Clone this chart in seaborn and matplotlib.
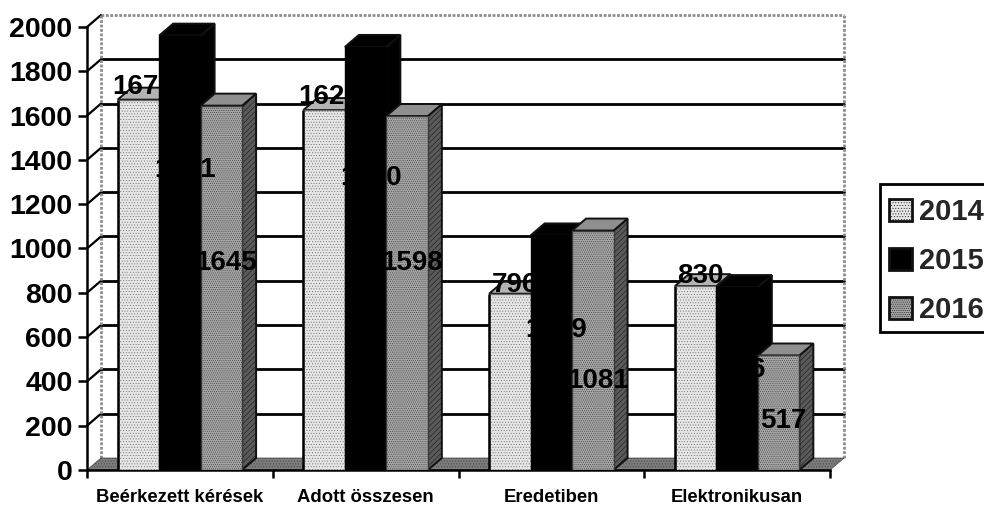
import matplotlib
matplotlib.use("Agg")
import matplotlib.pyplot as plt
from matplotlib.patches import Polygon, Rectangle
import pandas as pd
import seaborn as sns

categories = ["Beérkezett kérések", "Adott összesen", "Eredetiben", "Elektronikusan"]
years = ["2014", "2015", "2016"]
values_2014 = [1672, 1625, 796, 830]
values_2015 = [1961, 1910, 1059, 826]
values_2016 = [1645, 1598, 1081, 517]
yticks = list(range(0, 2001, 200))

# layout only: height of each series' number label in axis units
label_y_2014 = [1730, 1685, 835, 875]
label_y_2015 = [1354, 1318, 632, 451]
label_y_2016 = [935, 935, 402, 221]

colors = {"2014": "#e6e6e6", "2015": "#000000", "2016": "#a4a4a4"}
edges = {"2014": "#6a6a6a", "2015": "#000000", "2016": "#3a3a3a"}
hatches = {"2014": "......", "2015": "", "2016": "........"}

sns.set_theme(style="white")
plt.rcParams["font.family"] = ["Liberation Sans", "DejaVu Sans"]
plt.rcParams["hatch.linewidth"] = 0.35

df = pd.DataFrame({
    "cat": categories * 3,
    "year": sum([[y] * 4 for y in years], []),
    "value": values_2014 + values_2015 + values_2016,
})

W, H = 984, 507
fig = plt.figure(figsize=(W / 100, H / 100), dpi=100, facecolor="white")
ax = fig.add_axes([87 / W, (H - 470) / H, 743 / W, 443 / H])
sns.barplot(data=df, x="cat", y="value", hue="year", hue_order=years, order=categories,
            palette=colors, width=0.67, gap=0, dodge=True, saturation=1, errorbar=None,
            ax=ax, zorder=5, legend=True)
ax.set_xlim(-0.5, 3.5)
ax.set_ylim(0, 2000)
ax.set_xlabel("")
ax.set_ylabel("")

# depth of the pseudo-3D look, in axis units
dx = 14 / (743 / 4)
dy = 12 / (443 / 2000)
x0, x1 = -0.5, 3.5

# back wall, side wall and floor
for v in yticks[1:-1]:
    ax.plot([x0 + dx, x1 + dx], [v + dy, v + dy], color="black", lw=2, clip_on=False, zorder=1)
for v in yticks[1:]:
    ax.plot([x0, x0 + dx], [v, v + dy], color="black", lw=1.6, clip_on=False, zorder=1)
wall = dict(color="#8c8c8c", lw=2, ls=(0, (1, 0.6)), clip_on=False, zorder=1)
ax.plot([x0 + dx, x1 + dx], [2000 + dy, 2000 + dy], **wall)
ax.plot([x1 + dx, x1 + dx], [dy, 2000 + dy], **wall)
ax.plot([x0 + dx, x0 + dx], [dy, 2000 + dy], **wall)
ax.add_patch(Polygon([(x0, 0), (x1, 0), (x1 + dx, dy), (x0 + dx, dy)], closed=True,
                     facecolor="#7c7c7c", edgecolor="#444444", hatch="......", lw=0.5,
                     clip_on=False, zorder=2))

# bars: style the fronts, then add side and top faces
n = len(categories)
bars = [b for c in ax.containers for b in c]
for i, y in enumerate(years):
    for j in range(n):
        b = bars[i * n + j]
        b.set_edgecolor(edges[y])
        b.set_linewidth(1.0)
        b.set_hatch(hatches[y])
        b.set_zorder(5 + i)
        l, r, t = b.get_x(), b.get_x() + b.get_width(), b.get_height()
        side = "#000000" if y == "2015" else "#5a5a5a"
        top = {"2014": "#b4b4b4", "2015": "#000000", "2016": "#8f8f8f"}[y]
        ax.add_patch(Polygon([(r, 0), (r + dx, dy), (r + dx, t + dy), (r, t)], closed=True,
                             facecolor=side, edgecolor="#111111", lw=1.4,
                             hatch="" if y == "2015" else "//////", clip_on=False, zorder=4.5 + i))
        ax.add_patch(Polygon([(l, t), (r, t), (r + dx, t + dy), (l + dx, t + dy)], closed=True,
                             facecolor=top, edgecolor="#111111", lw=1.4,
                             clip_on=False, zorder=4.5 + i))
        if i == 0:
            ax.vlines(l, 0, t, color="black", lw=1.8, zorder=5.5)

# number labels sit on top of everything; black on black bars disappears
label_x = 5 / (743 / 4)
for i, (vals, ys) in enumerate([(values_2014, label_y_2014), (values_2015, label_y_2015),
                                (values_2016, label_y_2016)]):
    for j in range(n):
        b = bars[i * n + j]
        ax.text(b.get_x() + b.get_width() / 2 + label_x, ys[j], str(vals[j]),
                ha="center", va="center", fontsize=20, fontweight="bold", color="black", zorder=10)

# axes furniture
for s in ("top", "right"):
    ax.spines[s].set_visible(False)
for s in ("left", "bottom"):
    ax.spines[s].set_color("black")
    ax.spines[s].set_linewidth(1.8)
    ax.spines[s].set_zorder(3)
ax.set_yticks(yticks)
ax.set_yticklabels([str(v) for v in yticks], fontsize=20.5, fontweight="bold", color="black")
ax.set_xticks([i + 0.5 for i in range(-1, 4)], minor=True)
ax.set_xticks(range(n))
ax.set_xticklabels(categories, fontsize=13.3, fontweight="bold", color="black")
ax.tick_params(axis="y", left=True, length=6.5, width=1.8, pad=4, color="black")
ax.tick_params(axis="x", which="major", bottom=False, pad=8)
ax.tick_params(axis="x", which="minor", bottom=True, length=6, width=1.8, color="black")

# legend: frame drawn separately so the box can run off the right edge like the scan
handles, labels = ax.get_legend_handles_labels()
for h, y in zip(handles, years):
    h.set_edgecolor("#111111")
    h.set_linewidth(2)
    h.set_hatch(hatches[y])
fig.add_artist(Rectangle((880 / W, (H - 332) / H), 120 / W, 148 / H, transform=fig.transFigure,
                         facecolor="white", edgecolor="black", lw=2, zorder=15))
leg = ax.legend(handles, labels, loc="center left", bbox_to_anchor=(889 / W, (H - 261) / H),
                bbox_transform=fig.transFigure, frameon=False, prop={"size": 21, "weight": "bold"},
                handlelength=0.8, handleheight=0.75, handletextpad=0.24, labelspacing=0.72,
                borderpad=0, borderaxespad=0, title=None)
leg.set_zorder(20)
ax.set_zorder(16)
ax.patch.set_alpha(0)

fig.savefig("out.png", dpi=100, facecolor="white")
